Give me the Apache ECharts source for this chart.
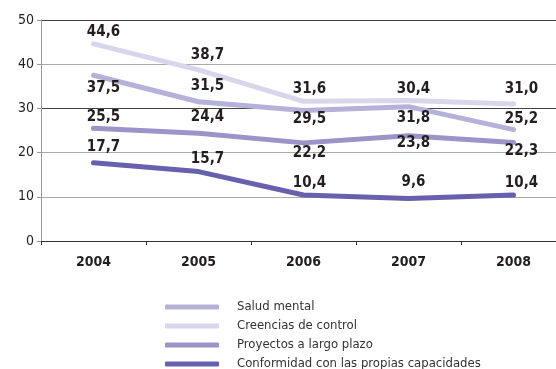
<!DOCTYPE html>
<html>
<head>
<meta charset="utf-8">
<script src="https://cdn.jsdelivr.net/npm/echarts@6/dist/echarts.min.js"></script>
<style>
html,body{margin:0;padding:0;background:#fff;}
#c{width:556px;height:369px;}
</style>
</head>
<body>
<div id="c"></div>
<script>
const categories = ['2004', '2005', '2006', '2007', '2008'];
const yTicks = [0, 10, 20, 30, 40, 50];

const saludMental = [37.5, 31.5, 29.5, 30.4, 25.2];
const creenciasControl = [44.6, 38.7, 31.6, 31.8, 31.0];
const proyectosPlazo = [25.5, 24.4, 22.2, 23.8, 22.3];
const conformidad = [17.7, 15.7, 10.4, 9.6, 10.4];

// value labels as printed in the chart
const saludMentalLabels = ['37,5', '31,5', '29,5', '31,8', '25,2'];
const creenciasControlLabels = ['44,6', '38,7', '31,6', '30,4', '31,0'];
const proyectosPlazoLabels = ['25,5', '24,4', '22,2', '23,8', '22,3'];
const conformidadLabels = ['17,7', '15,7', '10,4', '9,6', '10,4'];

const seriesNames = ['Salud mental', 'Creencias de control', 'Proyectos a largo plazo', 'Conformidad con las propias capacidades'];

// label placement (style)
const dxCol = [10, 9, 6, 5, 8];
const labelDy = {
  'Salud mental': [13, -16, 8, 11, -11],
  'Creencias de control': [-12, -15, -12, -11, -15],
  'Proyectos a largo plazo': [-11, -16, 10, 7, 9],
  'Conformidad con las propias capacidades': [-16, -12, -12, -16, -12]
};
const colors = {
  'Salud mental': '#b6b1d8',
  'Creencias de control': '#d9d6eb',
  'Proyectos a largo plazo': '#9c94c8',
  'Conformidad con las propias capacidades': '#6761ad'
};

const FONT = "'Liberation Sans Narrow', 'DejaVu Sans Condensed', sans-serif";

function mk(name, values, labels) {
  return {
    name: name,
    type: 'line',
    data: values.map((v, i) => ({
      value: v,
      label: { offset: [dxCol[i], labelDy[name][i]], formatter: labels[i] }
    })),
    symbol: 'circle',
    symbolSize: 1,
    showSymbol: true,
    itemStyle: { color: colors[name], borderWidth: 0 },
    lineStyle: { width: 5, color: colors[name], cap: 'round', join: 'round' },
    label: {
      show: true,
      position: 'inside',
      color: '#231f20',
      fontFamily: FONT,
      fontWeight: 'bold',
      fontSize: 15,
      align: 'center',
      verticalAlign: 'middle'
    },
    emphasis: { disabled: true },
    animation: false,
    clip: false
  };
}

const chart = echarts.init(document.getElementById('c'), null, { renderer: 'canvas' });
chart.setOption({
  backgroundColor: '#ffffff',
  animation: false,
  grid: { left: 41, width: 525, top: 20, height: 221, containLabel: false, outerBoundsMode: 'none' },
  legend: {
    orient: 'vertical',
    left: 160,
    top: 295,
    height: 90,
    data: seriesNames,
    icon: 'roundRect',
    itemWidth: 54,
    itemHeight: 5,
    itemGap: 5,
    textStyle: { fontFamily: FONT, fontSize: 13, lineHeight: 14, color: '#333', padding: [0, 0, 0, 13] }
  },
  xAxis: {
    type: 'category',
    data: categories,
    boundaryGap: true,
    axisLine: { lineStyle: { color: '#333', width: 1 } },
    axisTick: { show: true, length: 4, lineStyle: { color: '#333' } },
    axisLabel: { fontFamily: FONT, fontSize: 14, fontWeight: 'bold', color: '#231f20', margin: 14 },
    splitLine: { show: false }
  },
  yAxis: {
    type: 'value',
    min: 0,
    max: 50,
    interval: 10,
    axisLine: { show: true, lineStyle: { color: '#999', width: 1 } },
    axisTick: { show: true, length: 4, lineStyle: { color: '#999' } },
    axisLabel: { fontFamily: FONT, fontSize: 14, color: '#231f20', margin: 7,
      formatter: v => String(yTicks[yTicks.indexOf(v)]) },
    splitLine: { show: true, lineStyle: { color: ['#999', '#aaa', '#aaa', '#444', '#aaa', '#444'], width: 1 } }
  },
  series: [
    mk(seriesNames[0], saludMental, saludMentalLabels),
    mk(seriesNames[1], creenciasControl, creenciasControlLabels),
    mk(seriesNames[2], proyectosPlazo, proyectosPlazoLabels),
    mk(seriesNames[3], conformidad, conformidadLabels)
  ]
});
</script>
</body>
</html>
